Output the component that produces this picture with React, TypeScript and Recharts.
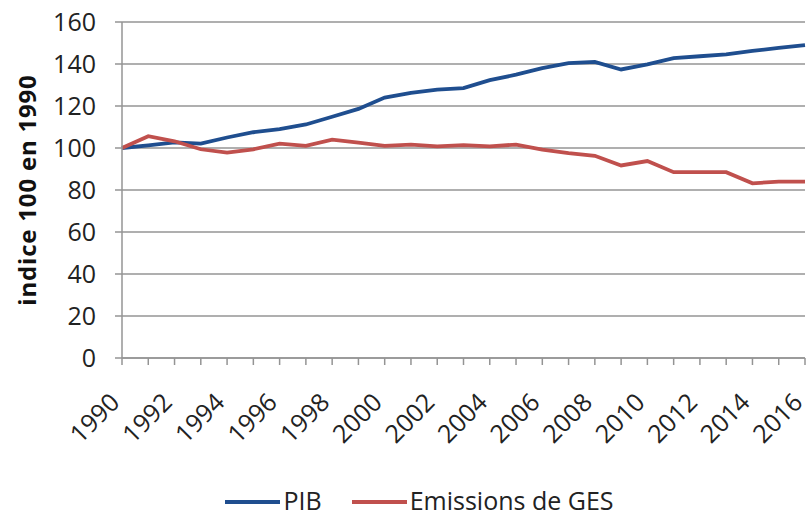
import { LineChart, Line, XAxis, YAxis, CartesianGrid, Legend } from "recharts";

const years = [
  "1990", "1991", "1992", "1993", "1994", "1995", "1996", "1997", "1998", "1999",
  "2000", "2001", "2002", "2003", "2004", "2005", "2006", "2007", "2008", "2009",
  "2010", "2011", "2012", "2013", "2014", "2015", "2016",
];

const pib = [
  100, 101.3, 102.7, 102.1, 105, 107.5, 109, 111.2, 114.9, 118.6,
  124, 126.2, 127.8, 128.5, 132.3, 134.9, 138, 140.4, 141, 137.4,
  139.8, 142.8, 143.7, 144.6, 146.2, 147.7, 149,
];

const ges = [
  100, 105.6, 103.2, 99.4, 97.8, 99.4, 102.1, 101, 104, 102.6,
  101, 101.6, 100.8, 101.4, 100.8, 101.6, 99.2, 97.6, 96.3, 91.7,
  93.8, 88.5, 88.5, 88.5, 83.2, 84, 84,
];

const yTicks = [0, 20, 40, 60, 80, 100, 120, 140, 160];

const seriesNames = ["PIB", "Emissions de GES"];
const seriesColors = ["#1f4e8f", "#c0504d"];

const data = years.map((y, i) => ({ year: y, PIB: pib[i], GES: ges[i] }));

const font = "'Open Sans', 'Liberation Sans', sans-serif";

function YearTick(props: any) {
  const { x, y, payload } = props;
  if (Number(payload.value) % 2 !== 0) return null;
  const tx = x - 1;
  const ty = y + 37;
  return (
    <text
      x={tx}
      y={ty}
      textAnchor="end"
      transform={`rotate(-45, ${tx}, ${ty})`}
      fontSize={25}
      fontFamily={font}
      fill="#222"
    >
      {payload.value}
    </text>
  );
}

function LegendBox() {
  return (
    <div
      style={{
        height: 40,
        display: "flex",
        justifyContent: "center",
        alignItems: "center",
        paddingTop: 8,
        paddingLeft: 34,
        boxSizing: "border-box",
        gap: 30,
        fontFamily: font,
        fontSize: 25,
        lineHeight: "30px",
        color: "#222",
      }}
    >
      {seriesNames.map((name, i) => (
        <div key={name} style={{ display: "flex", alignItems: "center" }}>
          <span style={{ display: "inline-block", width: 55, height: 4, background: seriesColors[i], marginRight: 3, marginTop: 4 }} />
          <span>{name}</span>
        </div>
      ))}
    </div>
  );
}

export default function App() {
  return (
    <div style={{ position: "absolute", left: 0, top: 0, width: 808, height: 516, overflow: "hidden", background: "#fff" }}>
      <LineChart width={808} height={516} data={data} margin={{ top: 22, right: 3, left: 0, bottom: 0 }}>
        <CartesianGrid vertical={false} stroke="#949494" strokeWidth={1.5} />
        <XAxis
          dataKey="year"
          interval={0}
          tick={<YearTick />}
          tickLine={{ stroke: "#949494", strokeWidth: 1.5 }}
          axisLine={{ stroke: "#949494", strokeWidth: 1.5 }}
          tickSize={7}
          height={118}
        />
        <YAxis
          domain={[0, 160]}
          ticks={yTicks}
          width={122}
          tick={{ fontSize: 25, fill: "#222", fontFamily: font }}
          tickLine={{ stroke: "#949494", strokeWidth: 1.5 }}
          axisLine={{ stroke: "#949494", strokeWidth: 1.5 }}
          tickSize={7}
          tickMargin={19}
          label={{
            value: "indice 100 en 1990",
            angle: -90,
            position: "insideLeft",
            dx: 22,
            style: { fontSize: 24, fontWeight: "bold", letterSpacing: 0.8, fill: "#111", fontFamily: font, textAnchor: "middle" },
          }}
        />
        <Legend verticalAlign="bottom" content={<LegendBox />} />
        <Line dataKey="PIB" name={seriesNames[0]} stroke={seriesColors[0]} strokeWidth={3.8} dot={false} isAnimationActive={false} />
        <Line dataKey="GES" name={seriesNames[1]} stroke={seriesColors[1]} strokeWidth={3.8} dot={false} isAnimationActive={false} />
      </LineChart>
    </div>
  );
}
